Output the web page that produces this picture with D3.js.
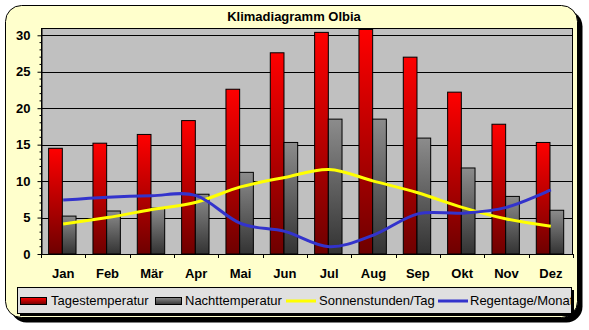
<!DOCTYPE html>
<html>
<head>
<meta charset="utf-8">
<script src="https://cdn.jsdelivr.net/npm/d3@7"></script>
<style>
  html, body { margin: 0; padding: 0; background: #ffffff; }
  svg { display: block; font-family: "Liberation Sans", Arial, sans-serif; }
</style>
</head>
<body>
<svg id="chart" width="589" height="330"></svg>
<script>
// Klimadiagramm Olbia – monthly climate values
const months = ["Jan", "Feb", "Mär", "Apr", "Mai", "Jun", "Jul", "Aug", "Sep", "Okt", "Nov", "Dez"];
const tagestemperatur = [14.5, 15.2, 16.4, 18.3, 22.6, 27.6, 30.4, 30.8, 27.0, 22.2, 17.8, 15.3];
const nachttemperatur = [5.2, 5.9, 6.3, 8.2, 11.2, 15.3, 18.5, 18.5, 15.9, 11.8, 7.9, 6.0];
const sonnenstunden = [4.1, 5.0, 6.1, 7.1, 9.2, 10.5, 11.6, 10.0, 8.4, 6.4, 4.8, 3.8];
const regentage = [7.4, 7.8, 8.0, 8.0, 4.2, 3.1, 1.0, 2.6, 5.5, 5.6, 6.4, 8.8];
const yTicks = [0, 5, 10, 15, 20, 25, 30];

const svg = d3.select("#chart");
const defs = svg.append("defs");

// vertical gradients for the bars
function vGrad(id, top, bottom) {
  const g = defs.append("linearGradient").attr("id", id)
    .attr("x1", 0).attr("y1", 0).attr("x2", 0).attr("y2", 1);
  g.append("stop").attr("offset", "0%").attr("stop-color", top);
  g.append("stop").attr("offset", "100%").attr("stop-color", bottom);
}
vGrad("gradRed", "#ff0000", "#6e0000");
vGrad("gradGray", "#8c8c8c", "#333333");

// outer frame with drop shadow
const frame = { x: 5.5, y: 5.5, w: 572, h: 312, r: 16 };
svg.append("rect")
  .attr("x", frame.x + 5).attr("y", frame.y + 5)
  .attr("width", frame.w).attr("height", frame.h)
  .attr("rx", frame.r).attr("fill", "#000");
svg.append("rect")
  .attr("x", frame.x).attr("y", frame.y)
  .attr("width", frame.w).attr("height", frame.h)
  .attr("rx", frame.r).attr("fill", "#ffffcc")
  .attr("stroke", "#000").attr("stroke-width", 1);

// title
svg.append("text")
  .attr("x", 294).attr("y", 20.5)
  .attr("text-anchor", "middle")
  .attr("font-size", 13).attr("font-weight", "bold")
  .text("Klimadiagramm Olbia");

// plot area
const plot = { left: 41, right: 573, top: 28, bottom: 254 };
const x = d3.scaleBand().domain(months).range([plot.left, plot.right]).padding(0);
const bw = x.bandwidth();
const xs = d3.scaleBand().domain([0, 1]).range([bw * 0.172, bw * 0.79]).padding(0);
const y = d3.scaleLinear().domain([0, 31]).range([plot.bottom, plot.top]);

svg.append("rect")
  .attr("x", plot.left).attr("y", plot.top)
  .attr("width", plot.right - plot.left).attr("height", plot.bottom - plot.top)
  .attr("fill", "#c0c0c0");

// horizontal gridlines
svg.append("g").selectAll("line").data(yTicks.filter(d => d > 0)).join("line")
  .attr("x1", plot.left).attr("x2", plot.right)
  .attr("y1", d => Math.round(y(d)) + 0.5).attr("y2", d => Math.round(y(d)) + 0.5)
  .attr("stroke", "#000").attr("stroke-width", 1);

// bars
const barG = svg.append("g");
const series = [
  { values: tagestemperatur, fill: "url(#gradRed)" },
  { values: nachttemperatur, fill: "url(#gradGray)" }
];
series.forEach((s, si) => {
  barG.append("g").selectAll("rect").data(s.values).join("rect")
    .attr("x", (d, i) => x(months[i]) + xs(si))
    .attr("y", d => y(d))
    .attr("width", xs.bandwidth())
    .attr("height", d => y(0) - y(d))
    .attr("fill", s.fill)
    .attr("stroke", "#000").attr("stroke-width", 1);
});

// smoothed lines
const line = d3.line()
  .x((d, i) => x(months[i]) + bw / 2)
  .y(d => y(d))
  .curve(d3.curveCatmullRom.alpha(0));

svg.append("path").datum(sonnenstunden)
  .attr("d", line).attr("fill", "none")
  .attr("stroke", "#ffff00").attr("stroke-width", 3);
svg.append("path").datum(regentage)
  .attr("d", line).attr("fill", "none")
  .attr("stroke", "#3333cc").attr("stroke-width", 3);

// plot border
svg.append("rect")
  .attr("x", plot.left + 0.5).attr("y", plot.top + 0.5)
  .attr("width", plot.right - plot.left - 1).attr("height", plot.bottom - plot.top)
  .attr("fill", "none").attr("stroke", "#000").attr("stroke-width", 1);

// y axis with minor ticks
const yAxis = svg.append("g")
  .attr("transform", `translate(${plot.left + 0.5},0)`)
  .call(d3.axisLeft(y).tickValues(yTicks).tickSize(4).tickPadding(7).tickSizeOuter(0));
yAxis.select(".domain").attr("stroke", "#000");
yAxis.selectAll("text").attr("font-size", 13).attr("font-weight", "bold")
  .attr("fill", "#000").attr("font-family", "Liberation Sans, Arial, sans-serif");
svg.append("g").attr("transform", `translate(${plot.left + 0.5},0)`)
  .selectAll("line").data(d3.range(0, 31).filter(v => v % 5 !== 0)).join("line")
  .attr("x1", -2).attr("x2", 0)
  .attr("y1", d => y(d)).attr("y2", d => y(d))
  .attr("stroke", "#000");

// x axis: ticks on category boundaries, labels centred
const xAxisG = svg.append("g");
xAxisG.append("line")
  .attr("x1", plot.left).attr("x2", plot.right)
  .attr("y1", plot.bottom + 0.5).attr("y2", plot.bottom + 0.5)
  .attr("stroke", "#000");
xAxisG.selectAll("line.tick").data(d3.range(months.length + 1)).join("line")
  .attr("class", "tick")
  .attr("x1", i => Math.round(plot.left + i * bw) + 0.5)
  .attr("x2", i => Math.round(plot.left + i * bw) + 0.5)
  .attr("y1", plot.bottom).attr("y2", plot.bottom + 4)
  .attr("stroke", "#000");
xAxisG.selectAll("text").data(months).join("text")
  .attr("x", d => x(d) + bw / 2)
  .attr("y", 278)
  .attr("text-anchor", "middle")
  .attr("font-size", 13).attr("font-weight", "bold")
  .text(d => d);

// legend
const lg = { x: 17, y: 287, w: 554, h: 26 };
svg.append("rect")
  .attr("x", lg.x + 3).attr("y", lg.y + 3)
  .attr("width", lg.w).attr("height", lg.h).attr("fill", "#000");
svg.append("rect")
  .attr("x", lg.x + 0.5).attr("y", lg.y + 0.5)
  .attr("width", lg.w).attr("height", lg.h)
  .attr("fill", "#e0e0e0").attr("stroke", "#000");
defs.append("clipPath").attr("id", "legendClip")
  .append("rect").attr("x", lg.x).attr("y", lg.y).attr("width", lg.w).attr("height", lg.h);

const legendItems = [
  { label: "Tagestemperatur", type: "rect", fill: "url(#gradRed)", sx: 20, tx: 51 },
  { label: "Nachttemperatur", type: "rect", fill: "url(#gradGray)", sx: 155, tx: 185 },
  { label: "Sonnenstunden/Tag", type: "line", stroke: "#ffff00", sx: 286, tx: 319 },
  { label: "Regentage/Monat", type: "line", stroke: "#3333cc", sx: 438, tx: 470 }
];
const lgG = svg.append("g").attr("clip-path", "url(#legendClip)");
legendItems.forEach(it => {
  if (it.type === "rect") {
    lgG.append("rect")
      .attr("x", it.sx + 0.5).attr("y", 297.5).attr("width", 26).attr("height", 7)
      .attr("fill", it.fill).attr("stroke", "#000");
  } else {
    lgG.append("line")
      .attr("x1", it.sx).attr("x2", it.sx + 30)
      .attr("y1", 301).attr("y2", 301)
      .attr("stroke", it.stroke).attr("stroke-width", 3);
  }
  lgG.append("text")
    .attr("x", it.tx).attr("y", 305)
    .attr("font-size", 13)
    .text(it.label);
});
</script>
</body>
</html>
